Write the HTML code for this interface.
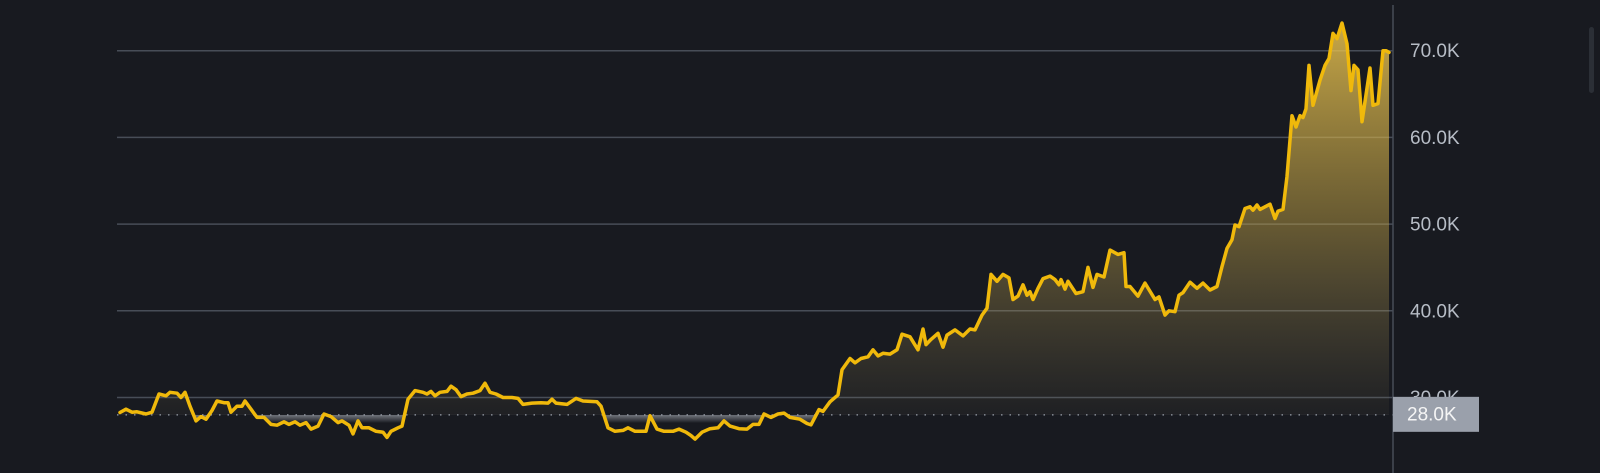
<!DOCTYPE html>
<html><head><meta charset="utf-8">
<style>
html,body{margin:0;padding:0;background:#181a20;}
svg{display:block;}
text{font-family:"Liberation Sans","DejaVu Sans",sans-serif;}
</style></head>
<body>
<svg id="chart" width="1600" height="473" viewBox="0 0 1600 473">
  <defs>
    <linearGradient id="upGrad" gradientUnits="userSpaceOnUse" x1="0" y1="30" x2="0" y2="416">
      <stop offset="0" stop-color="#f0c850" stop-opacity="0.8"/>
      <stop offset="0.5" stop-color="#c8a848" stop-opacity="0.45"/>
      <stop offset="1" stop-color="#a09060" stop-opacity="0.05"/>
    </linearGradient>
    <linearGradient id="downGrad" gradientUnits="userSpaceOnUse" x1="0" y1="416" x2="0" y2="423">
      <stop offset="0" stop-color="#8a8e96" stop-opacity="0.7"/>
      <stop offset="1" stop-color="#8a8e96" stop-opacity="0"/>
    </linearGradient>
    <clipPath id="aboveClip"><rect id="aboveRect" x="0" y="0" width="1600" height="416"/></clipPath>
    <clipPath id="belowClip"><rect id="belowRect" x="0" y="416" width="1600" height="60"/></clipPath>
  </defs>
  <g id="grid"></g>
  <g id="fills"></g>
  <line id="baseline" stroke="#9aa0ab" stroke-width="1.3" stroke-dasharray="1.5,7"/>
  <path id="priceLine" fill="none" stroke="#f0b90b" stroke-width="3.5" stroke-linejoin="round" stroke-linecap="round"/>
  <line x1="1393" y1="5" x2="1393" y2="473" stroke="#474d57" stroke-width="1.5"/>
  <g id="yLabels"></g>
  <g>
    <rect id="tagRect" x="1393" width="86" height="35" fill="#9aa0ab"/>
    <text id="tagText" x="1407" font-size="19" fill="#f5f5f5" dominant-baseline="central"></text>
  </g>
  <rect x="1589" y="27" width="5" height="66" rx="2.5" fill="#2b2f36"/>
</svg>
<script>
const times = [3,9,15,20,29,35,42,49,53,60,64,68,73,79,84,89,95,100,107,111,114,120,125,128,134,140,147,154,160,167,172,178,183,189,194,201,207,214,221,225,232,236,241,245,252,259,266,270,274,281,285,291,298,306,310,314,318,323,330,334,339,344,350,356,363,368,373,379,386,395,401,406,415,424,431,435,439,450,459,466,480,484,491,498,506,511,518,529,533,540,547,556,562,569,574,578,585,593,601,607,613,622,630,636,642,647,654,661,667,673,683,690,694,702,706,713,721,725,733,738,744,751,756,761,766,773,780,785,793,801,806,809,814,821,826,830,838,846,853,858,865,870,874,880,886,892,896,901,906,910,913,916,921,926,933,938,942,944,948,951,959,966,971,976,980,987,993,1001,1007,1009,1013,1021,1028,1038,1042,1048,1052,1058,1062,1066,1073,1080,1086,1093,1100,1105,1110,1115,1118,1122,1128,1133,1136,1140,1143,1153,1158,1161,1166,1170,1175,1179,1183,1186,1189,1192,1196,1203,1208,1212,1216,1220,1225,1230,1234,1237,1241,1245,1253,1256,1261,1266,1269,1272];
const prices = [28.27,28.65,28.3,28.35,28.1,28.3,30.4,30.2,30.6,30.5,30.0,30.6,29.0,27.3,27.8,27.5,28.5,29.6,29.4,29.4,28.3,29.0,29.0,29.6,28.65,27.7,27.7,26.9,26.8,27.2,26.9,27.2,26.8,27.1,26.35,26.7,28.1,27.8,27.1,27.3,26.8,25.8,27.3,26.5,26.5,26.1,26.0,25.4,26.1,26.5,26.7,29.8,30.8,30.6,30.4,30.7,30.2,30.6,30.7,31.3,30.9,30.1,30.4,30.5,30.8,31.65,30.6,30.4,30.0,30.0,29.9,29.2,29.35,29.4,29.35,29.8,29.35,29.2,29.9,29.6,29.5,29.0,26.5,26.1,26.2,26.5,26.1,26.1,27.9,26.35,26.1,26.1,26.35,26.0,25.6,25.2,26.0,26.4,26.5,27.3,26.7,26.4,26.35,26.9,26.9,28.1,27.7,28.1,28.2,27.7,27.5,27.0,26.85,28.6,28.4,29.5,30.3,33.2,34.5,34.0,34.5,34.7,35.5,34.8,35.1,35.0,35.5,37.3,37.0,35.5,37.9,36.1,36.7,37.4,35.8,37.2,37.8,37.1,37.9,37.8,39.5,40.3,44.2,43.4,44.2,43.8,41.3,41.7,43.0,41.8,42.2,41.3,42.6,43.7,44.0,43.6,43.0,43.6,42.5,43.4,42.0,42.2,45.0,42.7,44.2,43.9,47.0,46.5,46.7,42.8,42.8,41.7,43.2,41.3,41.6,39.5,40.0,39.9,41.8,42.1,43.3,42.6,43.2,42.4,42.8,45.1,47.2,48.2,49.9,49.7,51.8,52.0,51.6,52.2,51.7,52.3,50.65,51.5,51.7,55.5,62.5,61.2,62.5,62.3,63.3,68.3,63.7,66.6,68.3,69.1,72.0,71.4,73.2,70.8,65.4,68.3,67.8,61.8,68.0,63.7,63.9,70.0,70.0,69.8,70.15];
const yTicks = [70,60,50,40,30];
const yTickLabels = ["70.0K","60.0K","50.0K","40.0K","30.0K"];
const baseValue = 28;
const baseLabel = "28.0K";

const NS = "http://www.w3.org/2000/svg";
const plotLeft = 117, plotRight = 1390, axisX = 1393;
const tMin = 0, tMax = 1273;
function xScale(t){ return plotLeft + (t - tMin) / (tMax - tMin) * (plotRight - plotLeft); }
function yScale(v){ return 50.7 + (70 - v) * 8.67; }

const grid = document.getElementById('grid');
const labels = document.getElementById('yLabels');
yTicks.forEach((v, i) => {
  const ln = document.createElementNS(NS, 'line');
  ln.setAttribute('x1', plotLeft); ln.setAttribute('x2', axisX);
  ln.setAttribute('y1', yScale(v)); ln.setAttribute('y2', yScale(v));
  ln.setAttribute('stroke', '#474d57'); ln.setAttribute('stroke-width', '1.5');
  
  
  grid.appendChild(ln);
  const tx = document.createElementNS(NS, 'text');
  tx.setAttribute('x', 1410); tx.setAttribute('y', yScale(v) + 1);
  tx.setAttribute('font-size', '19'); tx.setAttribute('fill', '#b7bdc6');
  tx.setAttribute('dominant-baseline', 'central');
  tx.textContent = yTickLabels[i];
  
  
  labels.appendChild(tx);
});

const by = yScale(baseValue);
document.getElementById('aboveRect').setAttribute('height', by);
document.getElementById('belowRect').setAttribute('y', by);
const bl = document.getElementById('baseline');
bl.setAttribute('x1', plotLeft); bl.setAttribute('x2', axisX);
bl.setAttribute('y1', by); bl.setAttribute('y2', by);
document.getElementById('tagRect').setAttribute('y', by - 18);
const tt = document.getElementById('tagText');
tt.setAttribute('y', by); tt.textContent = baseLabel;

let d = '';
times.forEach((t, i) => { d += (i ? 'L' : 'M') + xScale(t).toFixed(1) + ',' + yScale(prices[i]).toFixed(1); });
document.getElementById('priceLine').setAttribute('d', d);
const areaD = d + 'L' + xScale(times[times.length-1]).toFixed(1) + ',' + by + 'L' + xScale(times[0]).toFixed(1) + ',' + by + 'Z';
const fills = document.getElementById('fills');
const up = document.createElementNS(NS, 'path');
up.setAttribute('d', areaD); up.setAttribute('fill', 'url(#upGrad)'); up.setAttribute('clip-path', 'url(#aboveClip)');


fills.appendChild(up);
const dn = document.createElementNS(NS, 'path');
dn.setAttribute('d', areaD); dn.setAttribute('fill', 'url(#downGrad)'); dn.setAttribute('clip-path', 'url(#belowClip)');


fills.appendChild(dn);
</script>
</body></html>
